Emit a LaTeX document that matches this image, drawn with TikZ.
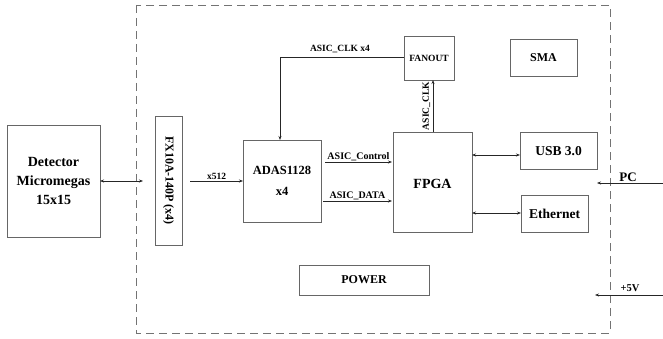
\documentclass[tikz,border=0pt]{standalone}
\usepackage{fontspec}
\setmainfont{Liberation Serif}
\usetikzlibrary{arrows.meta}
\begin{document}
\begin{tikzpicture}[x=1pt,y=-1pt,
  blk/.style={draw=black!60,line width=0.7pt,fill=white},
  lbl/.style={font=\bfseries\fontsize{13}{15}\selectfont,align=center},
  sml/.style={font=\bfseries\fontsize{9.5}{11}\selectfont,inner sep=1pt},
  wire/.style={draw=black!85,line width=0.7pt},
  tip/.style={-{Stealth[length=4pt,width=3pt]}},
  tips/.style={{Stealth[length=4pt,width=3pt]}-{Stealth[length=4pt,width=3pt]}}]
\useasboundingbox (0,0) rectangle (663,339);
% dashed enclosure
\draw[draw=black!55,line width=0.8pt,dash pattern=on 8pt off 5pt] (136,5) rectangle (610,333);
% blocks
\draw[blk] (7,125) rectangle (100,237);
\node[lbl,font=\bfseries\fontsize{14}{16}\selectfont] (det) at (53.5,181) {Detector\\[3pt]Micromegas\\[3pt]15x15};
\draw[blk] (155,116) rectangle (182,245);
\node[lbl,rotate=-90,font=\bfseries\fontsize{12}{14}\selectfont] (fx) at (168.5,180.5) {FX10A-140P (x4)};
\draw[blk] (243,140) rectangle (321,222);
\node[lbl,font=\bfseries\fontsize{12.5}{15}\selectfont] (adas) at (282,181) {ADAS1128\\[6pt]x4};
\draw[blk] (393,132) rectangle (472,232);
\node[lbl,font=\bfseries\fontsize{14}{16}\selectfont] (fpga) at (432.5,184) {FPGA};
\draw[blk] (404,36) rectangle (454,80);
\node[lbl,font=\bfseries\fontsize{9.5}{11}\selectfont] (fan) at (429,58) {FANOUT};
\draw[blk] (510,39) rectangle (577,76);
\node[lbl,font=\bfseries\fontsize{12}{14}\selectfont] (sma) at (543.5,57.5) {SMA};
\draw[blk] (520,132) rectangle (597,169);
\node[lbl,font=\bfseries\fontsize{13.5}{15}\selectfont] (usb) at (558.5,151) {USB 3.0};
\draw[blk] (521,195) rectangle (588,232);
\node[lbl,font=\bfseries\fontsize{13.5}{15}\selectfont] (eth) at (554.5,214) {Ethernet};
\draw[blk] (299,265) rectangle (429,295);
\node[lbl,font=\bfseries\fontsize{12}{14}\selectfont] (pow) at (364,280) {POWER};
% anchor coordinates
\coordinate (detE) at (100,181);
\coordinate (fxW) at (143,181);
\coordinate (fxE) at (190,181);
\coordinate (adasW) at (243,181);
\coordinate (adasN) at (280,140);
\coordinate (bend) at (280,57);
\coordinate (fanW) at (404,57);
\coordinate (fanS) at (433,80);
\coordinate (fpgaN) at (433,132);
\coordinate (c1) at (325,162);
\coordinate (c2) at (392,162);
\coordinate (d1) at (323,201);
\coordinate (d2) at (392,201);
\coordinate (fu) at (472,155);
\coordinate (usbW) at (520,155);
\coordinate (fe) at (472,213);
\coordinate (ethW) at (521,213);
\coordinate (pcR) at (663,183);
\coordinate (pcL) at (597,183);
\coordinate (vR) at (663,295);
\coordinate (vL) at (595,295);
% connectors
\draw[wire,tips] (detE) -- (fxW);
\draw[wire,tip] (fxE) -- node[sml,above] {x512} (adasW);
\draw[wire,tip] (fanW) -- (bend) -- (adasN);
\node[sml] (clkx4) at (340,49.5) {ASIC\_CLK x4};
\draw[wire,tip] (fpgaN) -- node[sml,rotate=90,above=1.5pt] {ASIC\_CLK} (fanS);
\draw[wire,tip] (c1) -- node[sml,above,font=\bfseries\fontsize{10}{12}\selectfont] {ASIC\_Control} (c2);
\draw[wire,tip] (d1) -- node[sml,above,font=\bfseries\fontsize{10}{12}\selectfont] {ASIC\_DATA} (d2);
\draw[wire,tips] (fu) -- (usbW);
\draw[wire,tips] (fe) -- (ethW);
\draw[wire,tip] (pcR) -- (pcL);
\node[sml,font=\bfseries\fontsize{13}{15}\selectfont] (pc) at (628,177) {PC};
\draw[wire,tip] (vR) -- (vL);
\node[sml,font=\bfseries\fontsize{10.5}{12}\selectfont] (v5) at (630,288) {+5V};
\end{tikzpicture}
\end{document}
